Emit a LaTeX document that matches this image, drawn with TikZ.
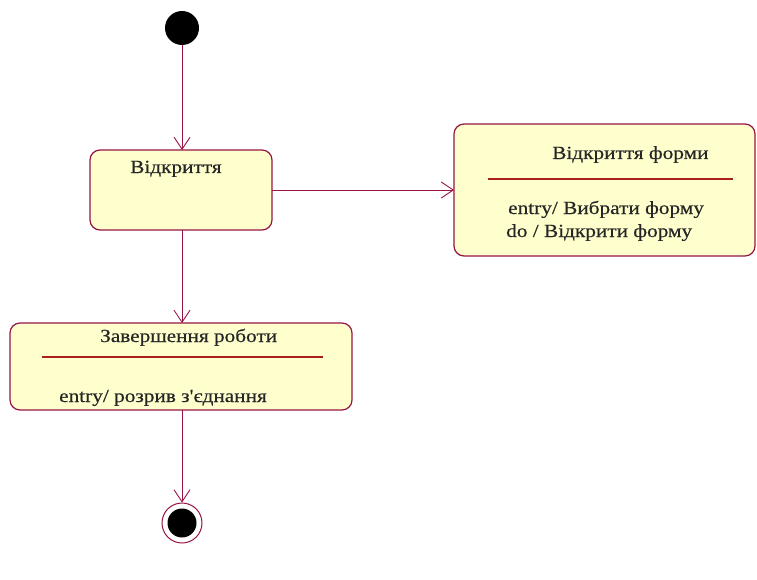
\documentclass[tikz,border=0pt]{standalone}
\usepackage{fontspec}
\setmainfont{Liberation Serif}
\newfontfamily\labelfont[FakeStretch=1.15, FakeBold=0.4]{Liberation Serif}
\usetikzlibrary{arrows.meta}
\definecolor{umlline}{RGB}{150,20,70}
\definecolor{umlfill}{RGB}{255,255,206}
\definecolor{umlsep}{RGB}{170,30,30}
\tikzset{
  state/.style={draw=umlline, fill=umlfill, line width=1.2pt, rounded corners=10pt},
  trans/.style={draw=umlline, line width=0.9pt, -{Straight Barb[length=12pt,width=16pt,line width=0.9pt]}},
  txt/.style={font=\labelfont\fontsize{18.5}{21}\selectfont, text=black!85, inner sep=0pt, anchor=base west},
  sep/.style={draw=umlsep, line width=1.1pt}
}
\begin{document}
\begin{tikzpicture}[x=1pt,y=-1pt]
\useasboundingbox (0,0) rectangle (757,580);
% initial pseudo-state
\node[circle, fill=black, minimum size=34pt, inner sep=0pt] (init) at (182,28) {};
% state: Відкриття
\draw[state] (90,150) rectangle (272,230);
\coordinate (opnT) at (182,150);
\coordinate (opnB) at (182,230);
\coordinate (opnR) at (272,190);
\node[txt] (opnL) at (130,173) {Відкриття};
% state: Відкриття форми
\draw[state] (454,124) rectangle (755,256);
\coordinate (frmL) at (454,190);
\node[txt] (frmL1) at (552,159) {Відкриття форми};
\draw[sep] (488,179) -- (733,179);
\node[txt] (frmE) at (508,214) {entry/ Вибрати форму};
\node[txt] (frmD) at (506,237) {do / Відкрити форму};
% state: Завершення роботи
\draw[state] (10,323) rectangle (352,410);
\coordinate (endT) at (182,323);
\coordinate (endB) at (182,410);
\node[txt] (endL) at (100,342) {Завершення роботи};
\draw[sep] (42,357) -- (323,357);
\node[txt] (endE) at (59,402) {entry/ розрив з'єднання};
% final pseudo-state
\node[circle, draw=umlline, line width=1pt, minimum size=40pt, inner sep=0pt] (fin) at (182,523) {};
\node[circle, fill=black, minimum size=29pt, inner sep=0pt] (finIn) at (182,523) {};
% transitions
\draw[trans] (init) -- (opnT);
\draw[trans] (opnR) -- (frmL);
\draw[trans] (opnB) -- (endT);
\draw[trans] (endB) -- (fin);
\end{tikzpicture}
\end{document}
